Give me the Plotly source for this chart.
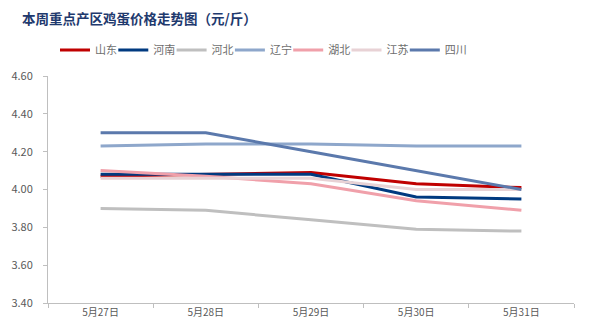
import plotly.graph_objects as go

dates = ["5月27日", "5月28日", "5月29日", "5月30日", "5月31日"]
shandong = [4.07, 4.08, 4.09, 4.03, 4.01]
henan = [4.08, 4.08, 4.08, 3.96, 3.95]
hebei = [3.90, 3.89, 3.84, 3.79, 3.78]
liaoning = [4.23, 4.24, 4.24, 4.23, 4.23]
hubei = [4.10, 4.07, 4.03, 3.94, 3.89]
jiangsu = [4.06, 4.06, 4.06, 4.00, 4.00]
sichuan = [4.30, 4.30, 4.20, 4.10, 4.00]

series_names = ["山东", "河南", "河北", "辽宁", "湖北", "江苏", "四川"]
series_values = [shandong, henan, hebei, liaoning, hubei, jiangsu, sichuan]
colors = ["#C00000", "#003A80", "#BFBFBF", "#8EA7CB", "#F0A0AA", "#E8D2D5", "#5B79AC"]

y_ticks = [3.4, 3.6, 3.8, 4.0, 4.2, 4.4, 4.6]
y_ticktext = ["3.40", "3.60", "3.80", "4.00", "4.20", "4.40", "4.60"]

font_cjk = "Noto Sans CJK SC, sans-serif"
W, H = 589, 334

fig = go.Figure()
legend_layouts = {}
for i, (name, vals, col) in enumerate(zip(series_names, series_values, colors)):
    key = "legend" if i == 0 else f"legend{i + 1}"
    fig.add_trace(go.Scatter(x=dates, y=vals, name=name, mode="lines",
                             line=dict(color=col, width=3), legend=key))
    left_px = 60 + i * 58.3 - 5
    legend_layouts[key] = dict(
        orientation="h", x=left_px / W, xref="container", xanchor="left",
        y=1 - 50 / H, yref="container", yanchor="middle",
        font=dict(size=11, color="#6E6E6E"), itemwidth=30,
        bgcolor="rgba(0,0,0,0)", borderwidth=0)

fig.update_layout(
    width=W, height=H,
    margin=dict(l=48, r=15, t=76, b=31, autoexpand=False),
    paper_bgcolor="white", plot_bgcolor="white",
    font=dict(family=font_cjk, color="#595959", size=11),
    title=dict(text="<b>本周重点产区鸡蛋价格走势图（元/斤）</b>",
               x=22 / W, xanchor="left", y=1 - 19 / H, yanchor="middle",
               font=dict(family=font_cjk, size=13.5, color="#1F3A6E")),
    showlegend=True,
    xaxis=dict(type="category", range=[-0.5, 4.5], showgrid=False,
               showline=True, linecolor="#BFBFBF", linewidth=1,
               ticks="outside", tickson="boundaries", ticklen=4,
               tickcolor="#BFBFBF", tickfont=dict(size=10, color="#595959")),
    yaxis=dict(range=[3.4, 4.6], tickvals=y_ticks, ticktext=y_ticktext,
               showgrid=False, zeroline=False, showline=True,
               linecolor="#BFBFBF", linewidth=1, ticks="outside", ticklen=4,
               tickcolor="#BFBFBF", ticklabelstandoff=8,
               tickfont=dict(size=11, color="#595959")),
    **legend_layouts,
)
fig.write_html("out.html")
